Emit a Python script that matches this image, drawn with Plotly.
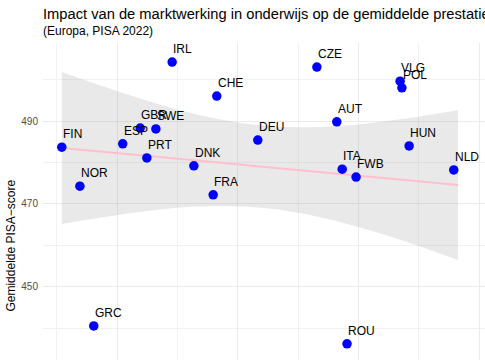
import plotly.graph_objects as go

# ---- data ----
countries = ["FIN", "NOR", "GRC", "ESP", "GBR", "PRT", "SWE", "IRL", "DNK", "FRA", "CHE",
             "DEU", "CZE", "AUT", "ITA", "ROU", "FWB", "VLG", "POL", "HUN", "NLD"]
marktwerking = [0.8, 3.8, 6.1, 10.9, 13.8, 14.9, 16.4, 19.1, 22.7, 25.9, 26.5,
                33.3, 43.1, 46.4, 47.3, 48.1, 49.6, 56.9, 57.2, 58.4, 65.8]
pisa_score = [483.7, 474.3, 440.6, 484.5, 488.3, 481.1, 488.1, 504.2, 479.2, 472.2, 496.0,
              485.4, 503.0, 489.8, 478.4, 436.3, 476.5, 499.6, 498.0, 484.0, 478.2]

# linear trend and its confidence band
trend_x = [0.8, 7.1, 15.4, 23.7, 34.0, 40.3, 48.6, 56.9, 66.5]
trend_y = [483.5, 482.6, 481.5, 480.4, 479.0, 478.1, 477.0, 475.9, 474.6]
band_hi = [501.8, 498.6, 494.7, 491.4, 488.9, 488.5, 489.0, 490.4, 492.6]
band_lo = [465.2, 466.7, 468.4, 469.4, 469.1, 467.8, 465.0, 461.4, 456.5]

title = "Impact van de marktwerking in onderwijs op de gemiddelde prestaties"
subtitle = "(Europa, PISA 2022)"
y_title = "Gemiddelde PISA\u2212score"

FONT = "Liberation Sans, Arial, Helvetica, sans-serif"

fig = go.Figure()
fig.add_trace(go.Scatter(x=trend_x, y=band_hi, mode="lines", line=dict(width=0, shape="spline"),
                         hoverinfo="skip", showlegend=False))
fig.add_trace(go.Scatter(x=trend_x, y=band_lo, mode="lines", line=dict(width=0, shape="spline"),
                         fill="tonexty", fillcolor="rgba(153,153,153,0.22)",
                         hoverinfo="skip", showlegend=False))
fig.add_trace(go.Scatter(x=trend_x, y=trend_y, mode="lines", line=dict(color="#FFC0CB", width=2),
                         showlegend=False))
fig.add_trace(go.Scatter(x=marktwerking, y=pisa_score, mode="markers",
                         marker=dict(color="#0000FF", size=9.5, line=dict(width=0)),
                         text=countries, showlegend=False))

annotations = []
for c, xv, yv in zip(countries, marktwerking, pisa_score):
    annotations.append(dict(x=xv, y=yv, xref="x", yref="y", text=c, showarrow=False,
                            xanchor="left", yanchor="middle", xshift=-1, yshift=13,
                            font=dict(family=FONT, size=12, color="#000000")))

annotations.append(dict(x=0, y=1, xref="paper", yref="paper", text=title, showarrow=False,
                        xanchor="left", yanchor="middle", xshift=-2, yshift=29,
                        font=dict(family=FONT, size=14.7, color="#000000")))
annotations.append(dict(x=0, y=1, xref="paper", yref="paper", text=subtitle, showarrow=False,
                        xanchor="left", yanchor="middle", xshift=-2, yshift=12,
                        font=dict(family=FONT, size=12, color="#000000")))
annotations.append(dict(x=0, y=0.361, xref="paper", yref="paper", text=y_title, showarrow=False,
                        xanchor="center", yanchor="middle", xshift=-32, textangle=-90,
                        font=dict(family=FONT, size=12, color="#000000")))

fig.update_layout(
    width=485, height=360, autosize=False,
    margin=dict(l=43, r=0, t=43, b=0, pad=0),
    paper_bgcolor="white", plot_bgcolor="white",
    font=dict(family=FONT),
    annotations=annotations,
    showlegend=False,
)
fig.update_xaxes(range=[-2.32, 70.98], showticklabels=False, ticks="", zeroline=False,
                 showline=False, tick0=10, dtick=20, showgrid=True, gridcolor="#EBEBEB", gridwidth=1,
                 minor=dict(dtick=10, tick0=0, showgrid=True, gridcolor="#F1F1F1", gridwidth=0.8))
fig.update_yaxes(range=[432.4, 508.8], tick0=450, dtick=20, ticks="", zeroline=False,
                 showline=False, showgrid=True, gridcolor="#EBEBEB", gridwidth=1,
                 tickfont=dict(family=FONT, size=10, color="#4D4D4D"), ticklabelstandoff=4,
                 minor=dict(dtick=10, tick0=440, showgrid=True, gridcolor="#F1F1F1", gridwidth=0.8))

fig.write_html("out.html")
